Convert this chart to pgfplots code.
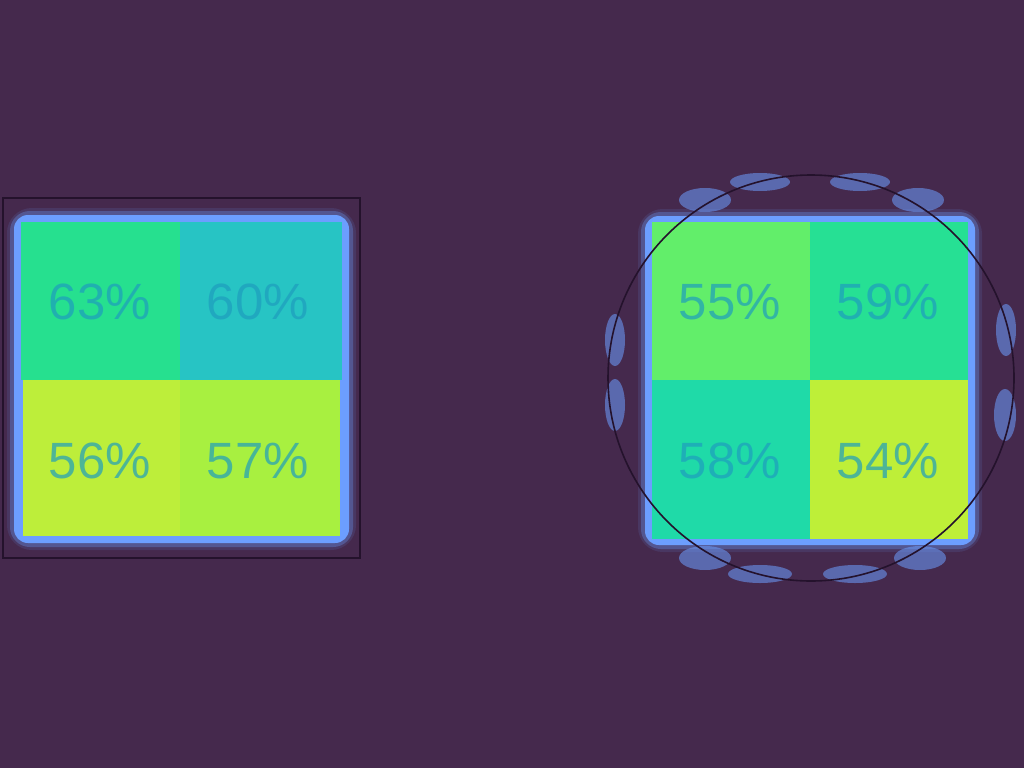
\documentclass[border=0pt]{standalone}
\usepackage{pgfplots}
\pgfplotsset{compat=1.18}
\usepackage{fontspec}
\setmainfont{Liberation Sans}
\definecolor{bg}{HTML}{45294D}
\definecolor{glow}{HTML}{6C9EFF}
\definecolor{frame}{HTML}{24122C}
\definecolor{txt}{HTML}{1E9DBE}
\definecolor{cA}{HTML}{26E08F}
\definecolor{cB}{HTML}{27C4C4}
\definecolor{cC}{HTML}{BDEE3A}
\definecolor{cD}{HTML}{A8F040}
\definecolor{cE}{HTML}{62EE6A}
\definecolor{cF}{HTML}{26E094}
\definecolor{cG}{HTML}{1FDAA8}
\definecolor{cH}{HTML}{BEEF38}
\tikzset{blob/.style={fill=glow, opacity=0.55}}
\begin{document}
\begin{tikzpicture}
\begin{axis}[
  width=1024pt, height=768pt, scale only axis,
  xmin=0, xmax=1024, ymin=0, ymax=768, y dir=reverse,
  axis lines=none, clip=false,
]
% background
\addplot[fill=bg, draw=none] coordinates {(0,0) (1024,0) (1024,768) (0,768)} -- cycle;
% left frame
\draw[frame, line width=1.5pt] (axis cs:3,198) rectangle (axis cs:360,558);
% left glow (layered)
\addplot[draw=glow, draw opacity=0.12, line width=14pt, rounded corners=18pt] coordinates {(14,215) (349,215) (349,543) (14,543)} -- cycle;
\addplot[draw=glow, draw opacity=0.3, line width=8pt, rounded corners=16pt] coordinates {(14,215) (349,215) (349,543) (14,543)} -- cycle;
\addplot[fill=glow, draw=none, rounded corners=14pt] coordinates {(14,215) (349,215) (349,543) (14,543)} -- cycle;
% left cells
\addplot[fill=cA, draw=none] coordinates {(21,222) (180,222) (180,380) (21,380)} -- cycle;
\addplot[fill=cB, draw=none] coordinates {(180,222) (342,222) (342,380) (180,380)} -- cycle;
\addplot[fill=cC, draw=none] coordinates {(23,380) (180,380) (180,536) (23,536)} -- cycle;
\addplot[fill=cD, draw=none] coordinates {(180,380) (340,380) (340,536) (180,536)} -- cycle;
% right glow blobs
\fill[blob] (axis cs:760,182) ellipse [x radius=30pt, y radius=9pt];
\fill[blob] (axis cs:860,182) ellipse [x radius=30pt, y radius=9pt];
\fill[blob] (axis cs:705,200) ellipse [x radius=26pt, y radius=12pt];
\fill[blob] (axis cs:918,200) ellipse [x radius=26pt, y radius=12pt];
\fill[blob] (axis cs:760,574) ellipse [x radius=32pt, y radius=9pt];
\fill[blob] (axis cs:855,574) ellipse [x radius=32pt, y radius=9pt];
\fill[blob] (axis cs:705,558) ellipse [x radius=26pt, y radius=12pt];
\fill[blob] (axis cs:920,558) ellipse [x radius=26pt, y radius=12pt];
\fill[blob] (axis cs:615,340) ellipse [x radius=10pt, y radius=26pt];
\fill[blob] (axis cs:615,405) ellipse [x radius=10pt, y radius=26pt];
\fill[blob] (axis cs:1006,330) ellipse [x radius=10pt, y radius=26pt];
\fill[blob] (axis cs:1005,415) ellipse [x radius=11pt, y radius=26pt];
% right glow (layered)
\addplot[draw=glow, draw opacity=0.12, line width=14pt, rounded corners=18pt] coordinates {(645,216) (975,216) (975,545) (645,545)} -- cycle;
\addplot[draw=glow, draw opacity=0.3, line width=8pt, rounded corners=16pt] coordinates {(645,216) (975,216) (975,545) (645,545)} -- cycle;
\addplot[fill=glow, draw=none, rounded corners=14pt] coordinates {(645,216) (975,216) (975,545) (645,545)} -- cycle;
% right cells
\addplot[fill=cE, draw=none] coordinates {(652,222) (810,222) (810,380) (652,380)} -- cycle;
\addplot[fill=cF, draw=none] coordinates {(810,222) (968,222) (968,380) (810,380)} -- cycle;
\addplot[fill=cG, draw=none] coordinates {(652,380) (810,380) (810,539) (652,539)} -- cycle;
\addplot[fill=cH, draw=none] coordinates {(810,380) (968,380) (968,539) (810,539)} -- cycle;
% circle frame
\draw[frame, line width=1.6pt] (axis cs:811,378) circle [radius=203pt];
% labels
\addplot[only marks, mark=none, nodes near coords, point meta=explicit symbolic,
  every node near coord/.append style={anchor=center, text=txt, text opacity=0.7,
  font=\fontsize{51}{55}\selectfont}]
  table[meta=label] {
x y label
100 302 63\%
258 302 60\%
100 461 56\%
258 461 57\%
730 302 55\%
888 302 59\%
730 461 58\%
888 461 54\%
};
\end{axis}
\end{tikzpicture}
\end{document}
